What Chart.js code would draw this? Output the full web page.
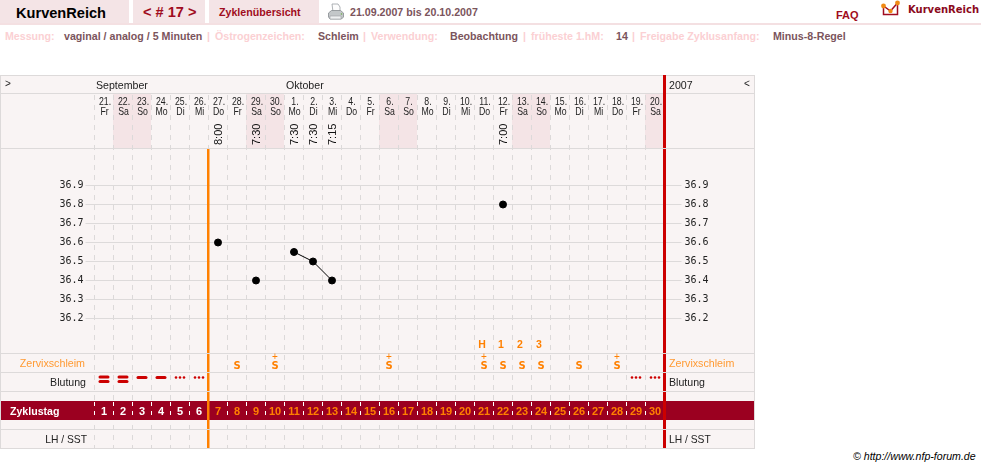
<!DOCTYPE html>
<html>
<head>
<meta charset="utf-8">
<title>KurvenReich</title>
<script src="https://cdn.jsdelivr.net/npm/chart.js@4"></script>
<style>
  body { margin: 0; background: #fff; font-family: "Liberation Sans", Arial, sans-serif; overflow: hidden; }
  #page { position: relative; width: 981px; height: 468px; overflow: hidden; }
  #page canvas { position: absolute; left: 0; top: 0; }
  .box { position: absolute; top: 0; height: 23px; background: #f4e4e6; }
  .hline { position: absolute; left: 0; top: 23px; width: 981px; height: 2px; background: #f4e0e2; }
  .t { position: absolute; white-space: nowrap; font-weight: bold; font-size: 10.65px; line-height: 14px; }
  .lbl { color: #fbd0d3; top: 29px; }
  .val { color: #7b545c; top: 29px; }
  .red { color: #a00c20; }
</style>
</head>
<body>
<div id="page">
  <div class="box" style="left:0;width:129px"></div>
  <div class="box" style="left:133px;width:72px"></div>
  <div class="box" style="left:209px;width:110px"></div>
  <div class="hline"></div>

  <div class="t" style="left:16px;top:4px;font-size:14.6px;line-height:18px;color:#000">KurvenReich</div>
  <div class="t red" style="left:143px;top:3px;font-size:14.6px;line-height:18px">&lt; # 17 &gt;</div>
  <div class="t red" style="left:219px;top:5px">Zyklenübersicht</div>
  <svg style="position:absolute;left:327px;top:3px" width="18" height="18" viewBox="0 0 18 18">
    <path d="M5 1h6l2 3v5H6z" fill="#fdfdfd" stroke="#9aa0a3" stroke-width=".8"/>
    <path d="M1.500 10l3-2.500h9l3 2.500v4l-2 2H3l-1.500-2z" fill="#c3c7c9" stroke="#878c8f" stroke-width=".8"/>
    <path d="M3 13h11v3H3z" fill="#eef0f1" stroke="#9aa0a3" stroke-width=".6"/>
    <circle cx="14.500" cy="11" r=".8" fill="#6fae4c"/>
  </svg>
  <div class="t val" style="left:350px;top:5px">21.09.2007 bis 20.10.2007</div>
  <div class="t red" style="left:836px;top:8px;font-size:11px">FAQ</div>
  <svg style="position:absolute;left:880px;top:0" width="22" height="18" viewBox="0 0 22 18">
    <path d="M3.500 6v8.500h14V3" fill="none" stroke="#a00c20" stroke-width="1.500"/>
    <path d="M3.500 6l7 5 7-8" fill="none" stroke="#a00c20" stroke-width="1.500"/>
    <circle cx="3.500" cy="6" r="2.400" fill="#f08a14"/><circle cx="10.500" cy="11" r="2.200" fill="#f08a14"/><circle cx="17.500" cy="3" r="2.400" fill="#f08a14"/>
  </svg>
  <div class="t" style="left:908px;top:3px;font-family:'DejaVu Sans';font-size:10px;color:#8b0a1c">KurvenReich</div>

  <div class="t lbl" style="left:5px">Messung:</div>
  <div class="t val" style="left:64px">vaginal / analog / 5 Minuten</div>
  <div class="t lbl" style="left:207px">|</div>
  <div class="t lbl" style="left:215px">Östrogenzeichen:</div>
  <div class="t val" style="left:318px">Schleim</div>
  <div class="t lbl" style="left:363px">|</div>
  <div class="t lbl" style="left:371px">Verwendung:</div>
  <div class="t val" style="left:450px">Beobachtung</div>
  <div class="t lbl" style="left:523px">|</div>
  <div class="t lbl" style="left:531px">früheste 1.hM:</div>
  <div class="t val" style="left:616px">14</div>
  <div class="t lbl" style="left:632px">|</div>
  <div class="t lbl" style="left:640px">Freigabe Zyklusanfang:</div>
  <div class="t val" style="left:773px">Minus-8-Regel</div>

  <div class="t" style="left:853px;top:449px;font-weight:normal;font-style:italic;font-size:10.6px;color:#000">© http://www.nfp-forum.de</div>

  <canvas id="myChart" width="981" height="468"></canvas>
</div>

<script>
// chart data
const cycleDays = [1,2,3,4,5,6,7,8,9,10,11,12,13,14,15,16,17,18,19,20,21,22,23,24,25,26,27,28,29,30];
const dates = ['21.','22.','23.','24.','25.','26.','27.','28.','29.','30.','1.','2.','3.','4.','5.','6.','7.','8.','9.','10.','11.','12.','13.','14.','15.','16.','17.','18.','19.','20.'];
const weekdays = ['Fr','Sa','So','Mo','Di','Mi','Do','Fr','Sa','So','Mo','Di','Mi','Do','Fr','Sa','So','Mo','Di','Mi','Do','Fr','Sa','So','Mo','Di','Mi','Do','Fr','Sa'];
const temperatures = [null,null,null,null,null,null,36.6,null,36.4,null,36.55,36.5,36.4,null,null,null,null,null,null,null,null,36.8,null,null,null,null,null,null,null,null];
const times = [null,null,null,null,null,null,'8:00',null,'7:30',null,'7:30','7:30','7:15',null,null,null,null,null,null,null,null,'7:00',null,null,null,null,null,null,null,null];
const tempTicks = [36.2,36.3,36.4,36.5,36.6,36.7,36.8,36.9];
const mucus = [null,null,null,null,null,null,null,'S',null,'S+',null,null,null,null,null,'S+',null,null,null,null,'S+','S','S','S',null,'S',null,'S+',null,null];
const peakMarks = [null,null,null,null,null,null,null,null,null,null,null,null,null,null,null,null,null,null,null,null,'H','1','2','3',null,null,null,null,null,null];
const bleeding = ['heavy','heavy','medium','medium','spot','spot',null,null,null,null,null,null,null,null,null,null,null,null,null,null,null,null,null,null,null,null,null,null,'spot','spot'];
const coverlineDay = 7; // orange line sits between day 6 and 7

const RED = '#cc0000', ORANGE = '#ff8000', BAND = '#9b0020', LINE = '#dddada', PANEL = '#f9f4f4', WEEKEND = '#f4e4e6';
const SANS = '"Liberation Sans", Arial, sans-serif';

function txt(ctx, s, x, y, font, color, align) {
  ctx.font = font;
  ctx.fillStyle = color;
  ctx.textAlign = align || 'left';
  ctx.textBaseline = 'alphabetic';
  ctx.fillText(s, x, y);
}

// squeezed text for the day header, no narrow font installed
function narrowTxt(ctx, s, x, y) {
  ctx.save();
  ctx.translate(x, y);
  ctx.scale(0.76, 1);
  txt(ctx, s, 0, 0, '11.5px ' + SANS, '#222', 'center');
  ctx.restore();
}

function hline(ctx, y, color) {
  ctx.fillStyle = color || LINE;
  ctx.fillRect(0, y, 755, 1);
}

const cyclePanel = {
  id: 'cyclePanel',
  beforeDraw(chart) {
    const ctx = chart.ctx, x = chart.scales.x;
    ctx.save();
    ctx.fillStyle = PANEL;
    ctx.fillRect(0, 75, 755, 374);
    ctx.fillStyle = WEEKEND;
    weekdays.forEach((w, i) => {
      if (w === 'Sa' || w === 'So') ctx.fillRect(Math.floor(x.getPixelForValue(i) - 9.5), 94, 19, 54);
    });
    ctx.restore();
  },
  beforeDatasetsDraw(chart) {
    const ctx = chart.ctx, x = chart.scales.x;
    ctx.save();

    // cycle day band, dashes go white here
    ctx.fillStyle = BAND;
    ctx.fillRect(0, 401, 755, 19);
    ctx.strokeStyle = '#fff';
    ctx.setLineDash([4, 5]);
    ctx.beginPath();
    cycleDays.forEach((d, i) => {
      const px = Math.floor(x.getPixelForValue(i) - 9.5) + 0.5;
      ctx.moveTo(px, 402);
      ctx.lineTo(px, 420);
    });
    ctx.stroke();
    ctx.setLineDash([]);

    // vertical markers
    const ox = Math.floor(x.getPixelForValue(coverlineDay - 1) - 9.5);
    const rx = Math.floor(x.right);
    ctx.fillStyle = ORANGE;
    ctx.fillRect(ox - 1, 148, 2.5, 301);
    ctx.fillStyle = RED;
    ctx.fillRect(rx - 1, 75, 3, 374);

    // borders and rows
    [75, 93, 148, 353, 372, 391, 429, 448].forEach(y => hline(ctx, y));
    ctx.fillStyle = RED;
    ctx.fillRect(rx - 1, 75, 3, 19);
    ctx.fillStyle = LINE;
    ctx.fillRect(0, 75, 1, 374);
    ctx.fillRect(754, 75, 1, 374);

    // header
    const small = '10.6px ' + SANS;
    txt(ctx, '>', 5, 87, '10px ' + SANS, '#222');
    txt(ctx, 'September', 96, 89, small, '#222');
    txt(ctx, 'Oktober', 286, 89, small, '#222');
    txt(ctx, '2007', 669, 89, small, '#222');
    txt(ctx, '<', 744, 87, '10px ' + SANS, '#222');

    cycleDays.forEach((d, i) => {
      const px = x.getPixelForValue(i);
      narrowTxt(ctx, dates[i], px + 1, 105);
      narrowTxt(ctx, weekdays[i], px + 0.5, 115);
      if (times[i]) {
        ctx.save();
        ctx.translate(px + 3.5, 145);
        ctx.rotate(-Math.PI / 2);
        txt(ctx, times[i], 0, 0, '11px ' + SANS, '#111');
        ctx.restore();
      }
      // rows
      if (peakMarks[i]) txt(ctx, peakMarks[i], px - 2, 348, 'bold 10.5px ' + SANS, ORANGE, 'center');
      if (mucus[i]) {
        txt(ctx, 'S', px, 369, 'bold 10px "DejaVu Sans"', ORANGE, 'center');
        if (mucus[i] === 'S+') txt(ctx, '+', px, 360, '10px ' + SANS, ORANGE, 'center');
      }
      if (bleeding[i]) {
        ctx.fillStyle = RED;
        if (bleeding[i] === 'spot') {
          [-4, 0, 4].forEach(o => {
            ctx.beginPath();
            ctx.arc(px + o, 377.5, 1.3, 0, Math.PI * 2);
            ctx.fill();
          });
        } else {
          const ys = bleeding[i] === 'heavy' ? [375.5, 380] : [376];
          ys.forEach(y => {
            ctx.beginPath();
            ctx.roundRect(px - 5.5, y, 11, 3, 1.5);
            ctx.fill();
          });
        }
      }
      txt(ctx, String(d), px, 415, 'bold 11px ' + SANS, d < coverlineDay ? '#fff' : ORANGE, 'center');
    });

    // row names
    txt(ctx, 'Zervixschleim', 85, 367, '10.7px ' + SANS, '#ff9a33', 'right');
    txt(ctx, 'Blutung', 86, 386, small, '#222', 'right');
    txt(ctx, 'Zyklustag', 10, 415, 'bold 10.6px ' + SANS, '#fff');
    txt(ctx, 'LH / SST', 87, 443, '10.3px ' + SANS, '#222', 'right');
    txt(ctx, 'Zervixschleim', 669, 367, '10.7px ' + SANS, '#ff9a33');
    txt(ctx, 'Blutung', 669, 386, small, '#222');
    txt(ctx, 'LH / SST', 669, 443, '10.3px ' + SANS, '#222');
    ctx.restore();
  }
};

const tempAxis = {
  type: 'linear',
  min: 35.5131,
  max: 37.3763,
  afterBuildTicks(scale) { scale.ticks = tempTicks.map(v => ({ value: v })); },
  ticks: {
    autoSkip: false,
    padding: 2,
    color: '#222',
    font: { family: '"DejaVu Sans Mono", monospace', size: 10 },
    callback: v => v.toFixed(1)
  },
  border: { display: false }
};

const config = {
  type: 'line',
  data: {
    labels: cycleDays,
    datasets: [{
      label: 'Temperatur',
      data: temperatures,
      spanGaps: false,
      borderColor: '#000',
      borderWidth: 1,
      backgroundColor: '#000',
      pointRadius: 3.5,
      pointHoverRadius: 3.5,
      tension: 0,
      yAxisID: 'y'
    }]
  },
  options: {
    responsive: false,
    animation: false,
    events: [],
    layout: { padding: { top: 95, bottom: 19, left: 0, right: 0 } },
    plugins: { legend: { display: false }, title: { display: false }, tooltip: { enabled: false } },
    scales: {
      x: {
        type: 'category',
        offset: true,
        afterFit(scale) { scale.height = 0; },
        grid: { offset: true, color: '#dcd9d9', drawTicks: false },
        border: { display: false, dash: [5, 5] },
        ticks: { display: false }
      },
      y: {
        ...tempAxis,
        position: 'left',
        afterFit(scale) { scale.width = 94.5; },
        grid: { color: LINE, tickLength: 9 }
      },
      y2: {
        ...tempAxis,
        ticks: { ...tempAxis.ticks, padding: 3 },
        position: 'right',
        afterFit(scale) { scale.width = 316.5; },
        grid: { color: LINE, tickLength: 17, drawOnChartArea: false }
      }
    }
  },
  plugins: [cyclePanel]
};

const myChart = new Chart(document.getElementById('myChart'), config);
</script>
</body>
</html>
